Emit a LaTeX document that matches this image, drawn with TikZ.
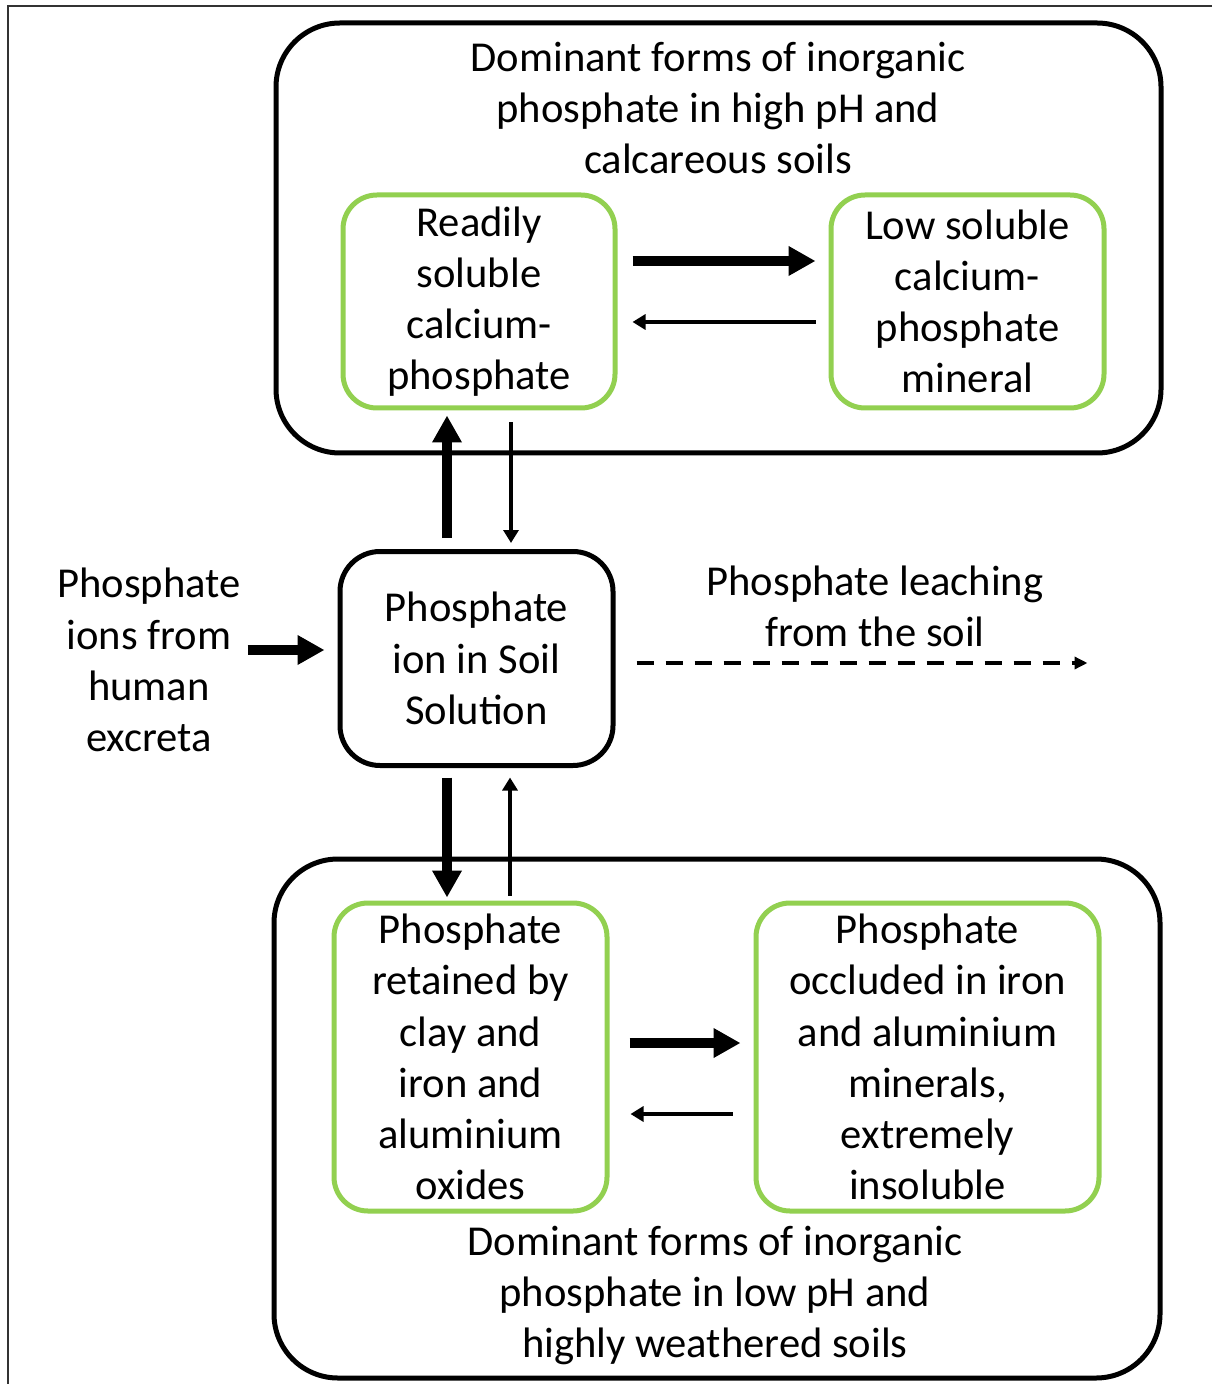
\documentclass[tikz,border=0pt]{standalone}
\usepackage{fontspec}
\setmainfont{Carlito}
\usetikzlibrary{arrows.meta,calc}
\definecolor{leaf}{HTML}{92D050}
\tikzset{
  txt/.style={font=\fontsize{21.3}{25.6}\selectfont, align=center, inner sep=0pt},
  outerbox/.style={draw=black, line width=2.5pt, rounded corners=32pt, inner sep=0pt},
  greenbox/.style={draw=leaf, line width=2.5pt, rounded corners=17pt, txt},
  midbox/.style={draw=black, line width=2.5pt, rounded corners=20pt, txt},
  thickarr/.style={line width=4.75pt, -{Triangle[length=13.5pt,width=14pt]}},
  thinarr/.style={line width=1.75pt, -{Triangle[length=6.5pt,width=7.5pt]}},
  dasharr/.style={line width=1.75pt, dash pattern=on 8.5pt off 6pt, -{Triangle[length=6.5pt,width=6pt]}}
}
\begin{document}
\begin{tikzpicture}[x=0.5pt,y=-0.5pt]
\useasboundingbox (0,0) rectangle (1212,1384);
% frame
\draw[line width=1pt, black!80] (1212,6) -- (8,6) -- (8,1384);
% outer group boxes
\node[outerbox, minimum width=442.5pt, minimum height=215pt] (T) at (718.5,238) {};
\node[outerbox, minimum width=443pt, minimum height=259.5pt] (B) at (717,1118.5) {};
% titles
\node[txt] (ttop) at (718,108) {Dominant forms of inorganic\\phosphate in high pH and\\calcareous soils};
\node[txt] (tbot) at (715,1295.5) {Dominant forms of inorganic\\phosphate in low pH and\\highly weathered soils};
% inner boxes
\node[greenbox, minimum width=136pt, minimum height=106.5pt] (b1) at (479,301.5) {Readily\\soluble\\calcium-\\phosphate};
\node[greenbox, minimum width=136.5pt, minimum height=106.5pt] (b2) at (967.5,301.5) {Low soluble\\calcium-\\phosphate\\mineral};
\node[midbox, minimum width=136.5pt, minimum height=107pt] (mid) at (476.5,658.5) {Phosphate\\ion in Soil\\Solution};
\node[greenbox, minimum width=136.5pt, minimum height=154pt] (b3) at (470.5,1057) {Phosphate\\retained by\\clay and\\iron and\\aluminium\\oxides};
\node[greenbox, minimum width=171.5pt, minimum height=154pt] (b4) at (927.5,1057) {Phosphate\\occluded in iron\\and aluminium\\minerals,\\extremely\\insoluble};
% side texts
\node[txt] (lt) at (149,660) {Phosphate\\ions from\\human\\excreta};
\node[txt] (leach) at (875,606) {Phosphate leaching\\from the soil};
% arrows
\draw[thickarr] ($(b1.east)+(15,-40.5)$) -- ($(b2.west)+(-13,-40.5)$);
\draw[thinarr] ($(b2.west)+(-13,20.5)$) -- ($(b1.east)+(15,20.5)$);
\draw[thickarr] ($(mid.north)+(-29.5,-11)$) -- ($(b1.south)+(-32,5)$);
\draw[thinarr] ($(b1.south)+(32,12)$) -- ($(mid.north)+(34.5,-6)$);
\draw[thickarr] ($(mid.west)+(-90,-8.5)$) -- ($(mid.west)+(-13,-8.5)$);
\draw[dasharr] ($(mid.east)+(21,4.5)$) -- ($(mid.east)+(472,4.5)$);
\draw[thickarr] ($(mid.south)+(-29.5,9.5)$) -- ($(b3.north)+(-23.5,-3)$);
\draw[thinarr] ($(b3.north)+(39.5,-5)$) -- ($(mid.south)+(33.5,9.5)$);
\draw[thickarr] ($(b3.east)+(20,-14)$) -- ($(b4.west)+(-13,-14)$);
\draw[thinarr] ($(b4.west)+(-21,57)$) -- ($(b3.east)+(21,57)$);
\end{tikzpicture}
\end{document}
